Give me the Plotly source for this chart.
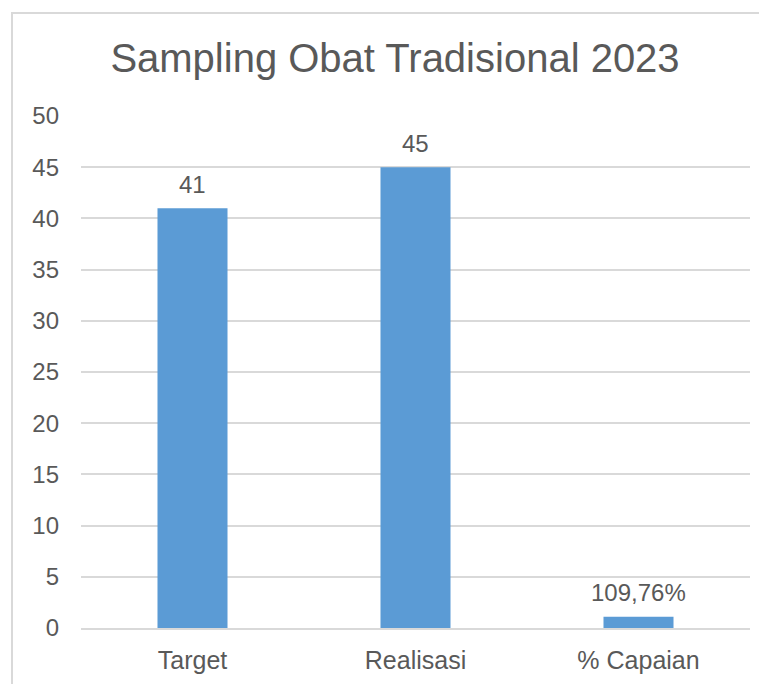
import plotly.graph_objects as go

categories = ["Target", "Realisasi", "% Capaian"]
values = [41, 45, 1.0976]
value_labels = ["41", "45", "109,76%"]
y_ticks = [0, 5, 10, 15, 20, 25, 30, 35, 40, 45, 50]

BAR = "#5B9BD5"
TXT = "#595959"
GRID = "#D9D9D9"
FONT = "Liberation Sans, Arial, sans-serif"

# the page body has an 8px default margin; compensate so the plot lands in place
OFF = 8
W, H = 767, 684
L, R, T, B = 81 - OFF, W - 750 + OFF, 116 - OFF, H - 628 + OFF

fig = go.Figure(
    go.Bar(
        x=categories,
        y=values,
        marker=dict(color=BAR, line=dict(width=0)),
        width=0.314,
        hoverinfo="x+y",
    )
)

annotations = [
    dict(
        x=c,
        y=v,
        xref="x",
        yref="y",
        text=t,
        showarrow=False,
        yanchor="middle",
        yshift=24,
        font=dict(family=FONT, size=24, color=TXT),
    )
    for c, v, t in zip(categories, values, value_labels)
]

fig.update_layout(
    width=W,
    height=H,
    paper_bgcolor="white",
    plot_bgcolor="white",
    margin=dict(l=L, r=R, t=T, b=B),
    showlegend=False,
    annotations=annotations,
    title=dict(
        text="Sampling Obat Tradisional 2023",
        font=dict(family=FONT, size=40, color=TXT),
        x=(395 - OFF) / W,
        xanchor="center",
        xref="container",
        y=1 - (58 - OFF) / H,
        yref="container",
        yanchor="middle",
    ),
    xaxis=dict(
        showgrid=False,
        showline=True,
        linecolor=GRID,
        linewidth=1.5,
        tickfont=dict(family=FONT, size=25, color=TXT),
        ticklabelstandoff=9,
        zeroline=False,
    ),
    yaxis=dict(
        range=[0, 50],
        tickvals=y_ticks,
        showgrid=True,
        gridcolor=GRID,
        gridwidth=1.5,
        zeroline=False,
        showline=False,
        tickfont=dict(family=FONT, size=24, color=TXT),
        ticklabelstandoff=21,
    ),
    shapes=[
        dict(
            type="rect",
            xref="paper",
            yref="paper",
            x0=(12 - 81) / 669,
            x1=1.2,
            y0=-0.3,
            y1=(628 - 13) / 512,
            line=dict(color=GRID, width=2),
            fillcolor="rgba(0,0,0,0)",
            layer="below",
        )
    ],
)

fig.write_html("out.html")
